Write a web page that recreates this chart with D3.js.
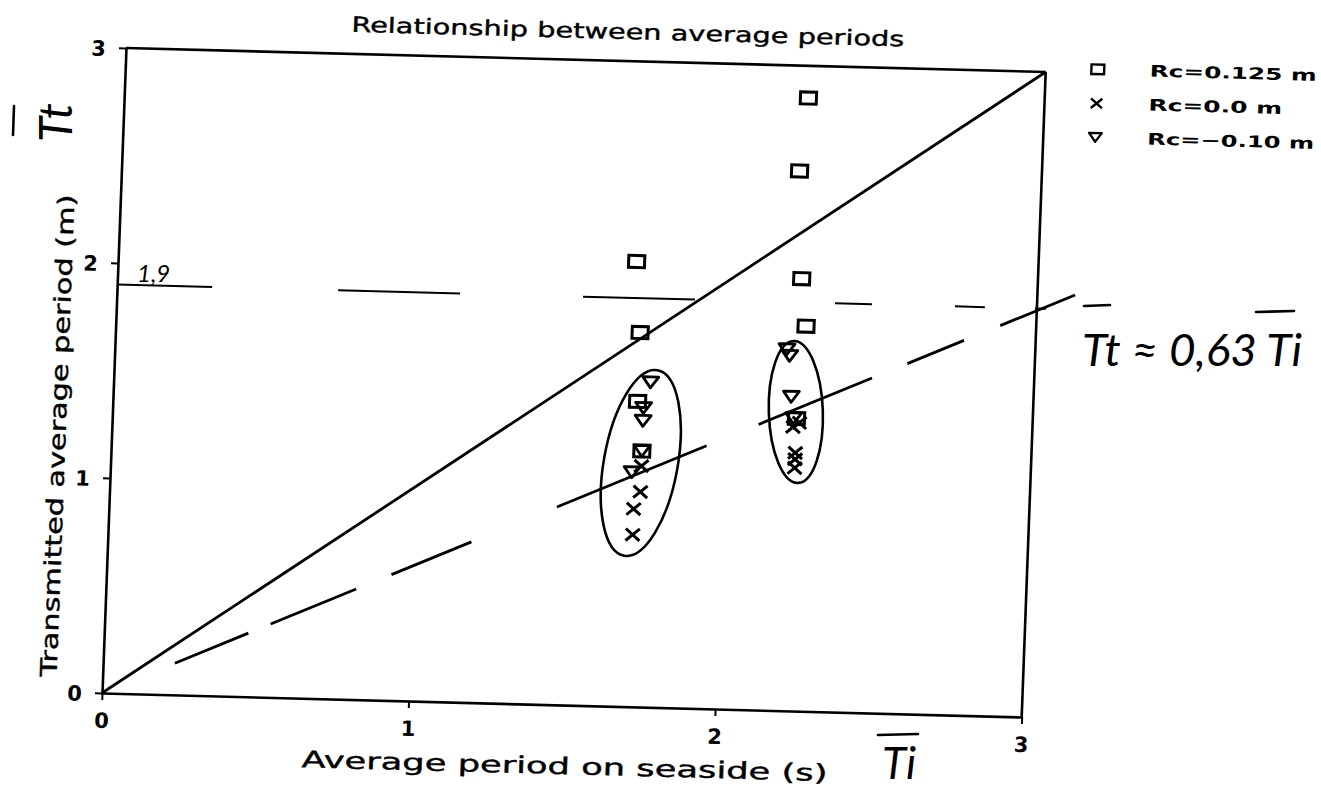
<!DOCTYPE html>
<html>
<head>
<meta charset="utf-8">
<script src="https://cdn.jsdelivr.net/npm/d3@7"></script>
<style>
  body { margin: 0; background: #fff; }
  svg { display: block; }
</style>
</head>
<body>
<svg id="chart" width="1321" height="792"></svg>
<script>
// ---- data ----------------------------------------------------------
const xTicks = [0, 1, 2, 3];
const yTicks = [0, 1, 2, 3];
const seriesNames = ["Rc=0.125 m", "Rc=0.0 m", "Rc=\u22120.10 m"];

// [average period on seaside, transmitted average period]
const rc0125 = [[1.69, 2.07], [1.71, 1.74], [1.71, 1.42], [1.73, 1.19],
                [2.23, 2.85], [2.21, 2.51], [2.23, 2.01], [2.25, 1.79], [2.23, 1.36]];
const rc000  = [[1.73, 1.12], [1.73, 1.00], [1.71, 0.92], [1.71, 0.80],
                [2.23, 1.20], [2.23, 1.17], [2.23, 1.13], [2.24, 1.34], [2.22, 1.32]];
const rcm010 = [[1.75, 1.51], [1.73, 1.39], [1.73, 1.33], [1.73, 1.19], [1.70, 1.09],
                [2.20, 1.65], [2.19, 1.68], [2.21, 1.46], [2.22, 1.36]];

const ratioSlope = 0.63;          // Tt ~ 0,63 Ti
const ratioRange = [0.234, 3.123];
const levelValue = 1.9;           // hand-drawn level line "1,9"
const levelRange = [0.0, 3.03];
const clusterCentres = [[1.728, 1.134], [2.227, 1.39]];

// ---- layout --------------------------------------------------------
const W = 920, H = 645;
const svg = d3.select("#chart");
const x = d3.scaleLinear().domain([0, 3]).range([0, W]);
const y = d3.scaleLinear().domain([0, 3]).range([0, -H]);

const plotFont = "'DejaVu Sans', sans-serif";
const handFont = "Lato, 'Open Sans', sans-serif";

// the sheet sits slightly askew: origin at bottom-left of the frame
const g = svg.append("g")
  .attr("transform", "matrix(0.99966,0.02608,-0.0372,1,102,693)");

// axes
const xAxis = d3.axisBottom(x).tickValues(xTicks).tickFormat(d3.format("d"))
  .tickSize(7).tickSizeOuter(0).tickPadding(13);
const yAxis = d3.axisLeft(y).tickValues(yTicks).tickFormat(d3.format("d"))
  .tickSize(7).tickSizeOuter(0).tickPadding(13);

const gx = g.append("g").call(xAxis);
const gy = g.append("g").call(yAxis);
[gx, gy].forEach(a => {
  a.attr("font-size", null).attr("font-family", null);
  a.select(".domain").attr("stroke", "#000").attr("stroke-width", 2.6);
  a.selectAll(".tick line").attr("stroke", "#000").attr("stroke-width", 2);
  a.selectAll(".tick text").attr("fill", "#000")
    .style("font-family", plotFont).style("font-size", "21px").style("font-weight", "bold");
});
gy.selectAll(".tick text").attr("dy", "0.38em");

// top and right edges of the frame
g.append("line").attr("x1", x(0)).attr("y1", y(3)).attr("x2", x(3)).attr("y2", y(3))
  .attr("stroke", "#000").attr("stroke-width", 2.6);
g.append("line").attr("x1", x(3)).attr("y1", y(3)).attr("x2", x(3)).attr("y2", y(0))
  .attr("stroke", "#000").attr("stroke-width", 2.6);

// 1:1 line
g.append("line").attr("x1", x(0)).attr("y1", y(0)).attr("x2", x(3)).attr("y2", y(3))
  .attr("stroke", "#000").attr("stroke-width", 2.8);

// level line at 1,9
g.append("line")
  .attr("x1", x(levelRange[0])).attr("y1", y(levelValue))
  .attr("x2", x(levelRange[1])).attr("y2", y(levelValue))
  .attr("stroke", "#000").attr("stroke-width", 2)
  .attr("stroke-dasharray", "95,126,122,123,112,140,37,83,30,50,12,100");

// Tt ~ 0,63 Ti, drawn as an uneven hand-ruled dash
g.append("line")
  .attr("x1", x(ratioRange[0])).attr("y1", y(ratioSlope * ratioRange[0]))
  .attr("x2", x(ratioRange[1])).attr("y2", y(ratioSlope * ratioRange[1]))
  .attr("stroke", "#000").attr("stroke-width", 2.8)
  .attr("stroke-dasharray", "79,24,92,38,86,92,161,56,122,38,61,39,90");

// hand-drawn loops round the two groups
const loops = [{ rx: 37, ry: 94, rot: 8 }, { rx: 27, ry: 71, rot: -4 }];
g.selectAll(".loop").data(clusterCentres).join("ellipse")
  .attr("class", "loop")
  .attr("transform", (d, i) => `translate(${x(d[0])},${y(d[1])}) rotate(${loops[i].rot})`)
  .attr("rx", (d, i) => loops[i].rx).attr("ry", (d, i) => loops[i].ry)
  .attr("fill", "none").attr("stroke", "#000").attr("stroke-width", 2.6);

// markers
const square = sel => sel.append("rect").attr("x", -8).attr("y", -6)
  .attr("width", 16).attr("height", 12).attr("fill", "none")
  .attr("stroke", "#000").attr("stroke-width", 3);
const cross = sel => sel.append("path").attr("d", "M-7,-6L7,6M-7,6L7,-6")
  .attr("fill", "none").attr("stroke", "#000").attr("stroke-width", 3);
const triangle = sel => sel.append("path").attr("d", "M-8,-5.5L8,-5.5L0,5.5Z")
  .attr("fill", "none").attr("stroke", "#000").attr("stroke-width", 2.8)
  .attr("stroke-linejoin", "round");

const series = [
  { data: rc0125, mark: square },
  { data: rc000, mark: cross },
  { data: rcm010, mark: triangle }
];
series.forEach(s => {
  g.append("g").selectAll("g").data(s.data).join("g")
    .attr("transform", d => `translate(${x(d[0])},${y(d[1])})`)
    .call(s.mark);
});

// title
g.append("text").attr("x", 501).attr("y", -667).attr("text-anchor", "middle")
  .attr("textLength", 553).attr("lengthAdjust", "spacingAndGlyphs")
  .style("font-family", plotFont).style("font-size", "21px")
  .attr("fill", "#000").attr("stroke", "#000").attr("stroke-width", 0.4)
  .text("Relationship between average periods");

// axis titles
g.append("text").attr("x", 465).attr("y", 69).attr("text-anchor", "middle")
  .attr("textLength", 526).attr("lengthAdjust", "spacingAndGlyphs")
  .style("font-family", plotFont).style("font-size", "23px")
  .attr("fill", "#000").attr("stroke", "#000").attr("stroke-width", 0.4)
  .text("Average period on seaside (s)");
g.append("text").attr("transform", "translate(-46,-256) rotate(-90)")
  .attr("text-anchor", "middle")
  .attr("textLength", 482).attr("lengthAdjust", "spacingAndGlyphs")
  .style("font-family", plotFont).style("font-size", "23px")
  .attr("fill", "#000").attr("stroke", "#000").attr("stroke-width", 0.4)
  .text("Transmitted average period (m)");

// legend
const legend = g.append("g").attr("transform", "translate(972,-649)");
const legendMarks = [square, cross, triangle];
seriesNames.forEach((name, i) => {
  const row = legend.append("g").attr("transform", `translate(0,${i * 34})`);
  row.append("g").attr("transform", "scale(0.8)").call(legendMarks[i]);
  row.append("text").attr("x", 52).attr("y", 0).attr("dy", "0.36em")
    .attr("textLength", name.length * 16.7).attr("lengthAdjust", "spacingAndGlyphs")
    .style("font-family", plotFont).style("font-size", "16px").style("font-weight", "bold")
    .attr("fill", "#000").text(name);
});

// handwritten notes
const hand = svg.append("g").attr("fill", "#000")
  .style("font-family", handFont).style("font-style", "italic").style("font-weight", 400);
const overline = (x1, y1, x2, y2) => hand.append("line")
  .attr("x1", x1).attr("y1", y1).attr("x2", x2).attr("y2", y2)
  .attr("stroke", "#000").attr("stroke-width", 2.6).attr("stroke-linecap", "round");

hand.append("text").attr("x", 137).attr("y", 282).style("font-size", "24px").text("1,9");

hand.append("text").attr("transform", "translate(72,142) rotate(-90)")
  .style("font-size", "46px").text("Tt");
overline(13, 135, 14, 106);

hand.append("text").attr("x", 882).attr("y", 779).style("font-size", "44px").text("Ti");
overline(878, 735, 918, 734);

hand.append("text").attr("x", 1082).attr("y", 366)
  .attr("textLength", 220).attr("lengthAdjust", "spacingAndGlyphs")
  .style("font-size", "44px").text("Tt \u2248 0,63 Ti");
overline(1084, 306, 1110, 305);
overline(1256, 312, 1294, 311);
</script>
</body>
</html>
